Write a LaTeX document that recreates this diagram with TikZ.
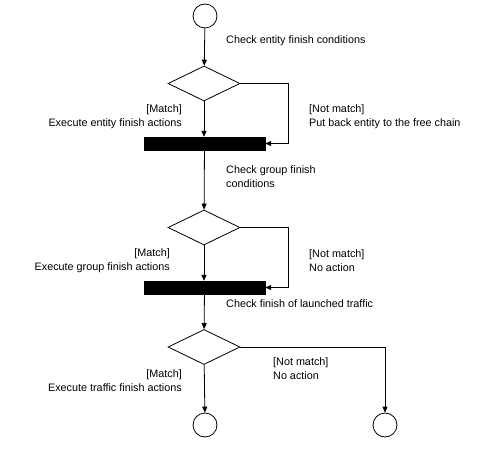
\documentclass[tikz,border=0pt]{standalone}
\usepackage{fontspec}
\setmainfont{Liberation Sans}
\usetikzlibrary{arrows.meta, shapes.geometric, positioning}

\begin{document}
\begin{tikzpicture}[x=1pt, y=-1pt,
  endpt/.style={draw, circle, minimum size=24pt, inner sep=0pt, line width=0.8pt},
  decide/.style={draw, diamond, minimum width=72pt, minimum height=35pt, inner sep=0pt, line width=0.8pt},
  forkbar/.style={draw, fill=black, minimum width=121pt, minimum height=13pt, inner sep=0pt},
  lbl/.style={font=\fontsize{10.8}{14}\selectfont, inner sep=0pt},
  arrow/.style={-{Triangle[length=6pt, width=5pt]}, line width=0.8pt},
]
\useasboundingbox (0,0) rectangle (498,473);

% Start and decisions
\node[endpt] (start) at (205,16) {};
\node[decide] (d1) at (204,83.5) {};
\node[forkbar] (bar1) at (204.5,143.5) {};
\node[decide] (d2) at (204,227.5) {};
\node[forkbar] (bar2) at (204.5,287.5) {};
\node[decide] (d3) at (204,347) {};

% Final states
\node[endpt] (end1) at (205,425) {};
\node[endpt] (end2) at (385,425) {};

% Labels
\node[lbl, anchor=west] (t1) at (226,41) {Check entity finish conditions};
\node[lbl, anchor=east, align=right] (m1) at (182,117) {[Match]\\Execute entity finish actions};
\node[lbl, anchor=west, align=left] (n1) at (309,117) {[Not match]\\Put back entity to the free chain};
\node[lbl, anchor=west, align=left] (t2) at (226,177) {Check group finish\\conditions};
\node[lbl, anchor=east, align=right] (m2) at (170,261) {[Match]\\Execute group finish actions};
\node[lbl, anchor=west, align=left] (n2) at (309,261) {[Not match]\\No action};
\node[lbl, anchor=west] (t3) at (226,304) {Check finish of launched traffic};
\node[lbl, anchor=east, align=right] (m3) at (182,381) {[Match]\\Execute traffic finish actions};
\node[lbl, anchor=west, align=left] (n3) at (273,369) {[Not match]\\No action};

% Flow
\draw[arrow] (start) -- (d1);
\draw[arrow] (d1) -- (d1 |- bar1.north);
\draw[arrow] (d1.east) -- ++(48,0) |- (bar1.east);
\draw[arrow] (bar1) -- (d2);
\draw[arrow] (d2) -- (d2 |- bar2.north);
\draw[arrow] (d2.east) -- ++(48,0) |- (bar2.east);
\draw[arrow] (bar2) -- (d3);
\draw[arrow] (d3) -- (end1);
\draw[arrow] (d3.east) -| (end2);
\end{tikzpicture}
\end{document}
